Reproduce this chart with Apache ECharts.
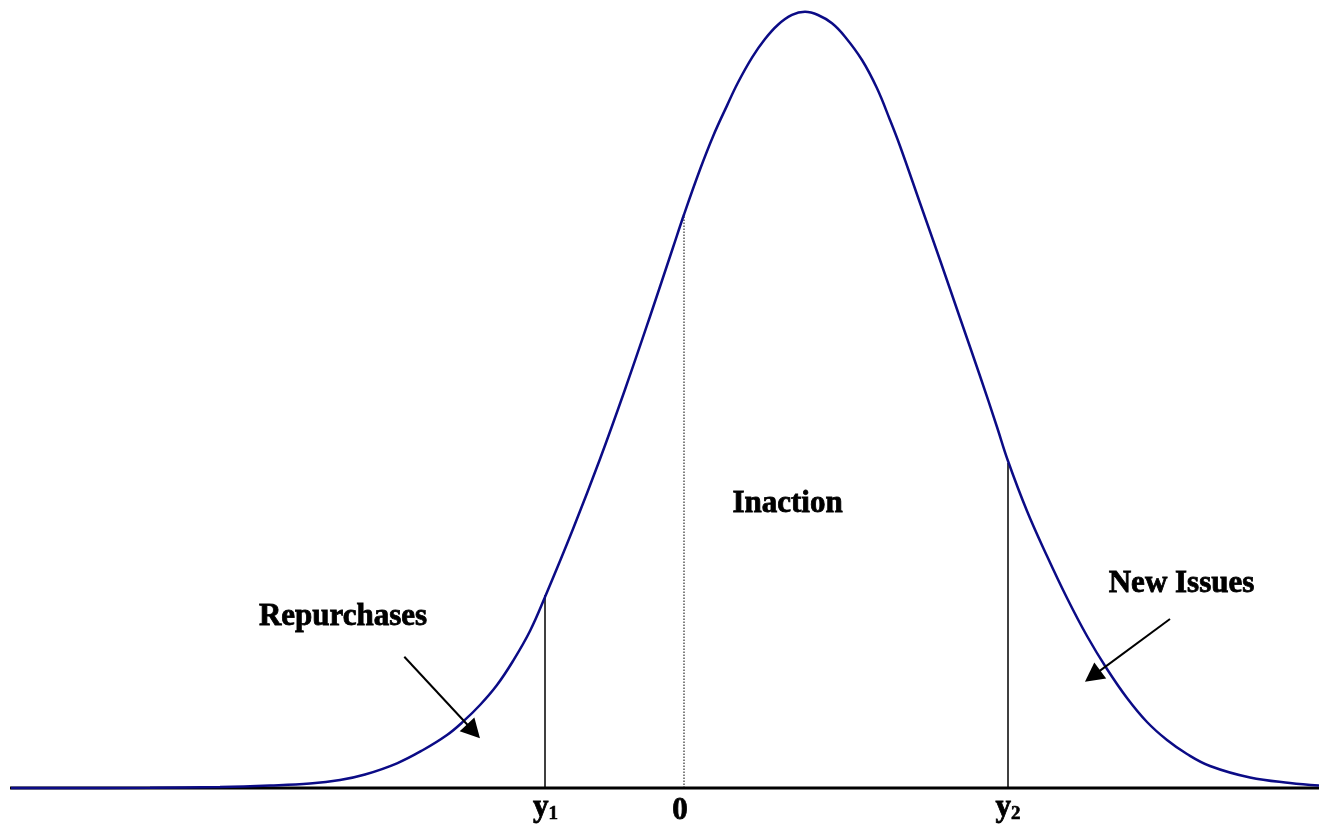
<!DOCTYPE html>
<html>
<head>
<meta charset="utf-8">
<title>Repurchases / Inaction / New Issues</title>
<script src="https://cdn.jsdelivr.net/npm/echarts@6/dist/echarts.min.js"></script>
<style>
  html, body { margin: 0; padding: 0; background: #fff; }
  #chart { width: 1319px; height: 824px; }
</style>
</head>
<body>
<div id="chart"></div>
<script>
// bell curve (x: horizontal position, y: height above the axis)
var curveX = [-6.73, -5.34, -4.64, -4.14, -3.74, -3.44, -3.19, -2.87, -2.61, -2.37,
  -2.21, -2.04, -1.87, -1.71, -1.54, -1.39, -1.11, -0.84, -0.59, -0.34,
  -0.11, 0.00, 0.16, 0.29, 0.43, 0.54, 0.68, 0.81, 0.94, 1.08,
  1.21, 1.34, 1.48, 1.61, 1.78, 1.93, 2.06, 2.16, 2.36, 2.56,
  2.76, 2.96, 3.13, 3.24, 3.43, 3.63, 3.83, 4.03, 4.23, 4.43,
  4.63, 4.83, 5.03, 5.26, 5.66, 6.06, 6.35];
var curveY = [0.00, 0.002, 0.01, 0.025, 0.045, 0.08, 0.135, 0.247, 0.38, 0.53,
  0.663, 0.83, 1.03, 1.27, 1.57, 1.91, 2.59, 3.29, 3.985, 4.715,
  5.405, 5.735, 6.185, 6.516, 6.824, 7.055, 7.304, 7.49, 7.633, 7.731,
  7.762, 7.73, 7.647, 7.513, 7.28, 6.997, 6.68, 6.42, 5.85, 5.28,
  4.70, 4.12, 3.61, 3.27, 2.77, 2.32, 1.90, 1.52, 1.19, 0.90,
  0.66, 0.48, 0.34, 0.22, 0.105, 0.05, 0.025];

// cut-offs on the axis and where they meet the curve
var cutNames = ['y1', '0', 'y2'];
var cutX = [-1.39, 0.00, 3.24];
var cutTop = [1.93, 5.73, 3.25];

// axis line
var axisStart = -6.74;
var axisEnd = 6.35;

// region labels and their arrows
var regionNames = ['Inaction', 'Repurchases', 'New Issues'];
var regionX = [1.035, -3.41, 4.975];
var regionY = [2.84, 1.71, 2.04];
var arrowFrom = [[-2.797, 1.313], [4.86, 1.69]];
var arrowTo = [[-2.105, 0.567], [4.086, 1.119]];

// tick labels under the axis
var tickText = ['{v|y}{s|1}', '{v|0}', '{v|y}{s|2}'];
var tickX = [-1.385, -0.04, 3.24];
var tickY = [-0.20, -0.23, -0.20];

var font = "'Liberation Serif', 'Times New Roman', serif";

var chart = echarts.init(document.getElementById('chart'));

var curveData = curveX.map(function (x, i) { return [x, curveY[i]]; });

var series = [];

// horizontal axis, with the two arrows as mark lines
series.push({
  type: 'line',
  data: [[axisStart, 0], [axisEnd, 0]],
  symbol: 'none',
  clip: false,
  silent: true,
  lineStyle: { color: '#000', width: 3 },
  z: 2,
  markLine: {
    silent: true,
    animation: false,
    label: { show: false },
    lineStyle: { color: '#000', width: 2, type: 'solid' },
    data: arrowFrom.map(function (p, i) {
      return [
        { coord: p, symbol: 'none' },
        { coord: arrowTo[i], symbol: 'triangle', symbolSize: [20, 19] }
      ];
    })
  }
});

// cut-off verticals
cutNames.forEach(function (name, i) {
  series.push({
    type: 'line',
    name: name,
    data: [[cutX[i], 0], [cutX[i], cutTop[i]]],
    symbol: 'none',
    clip: false,
    silent: true,
    lineStyle: {
      color: '#000',
      width: name === '0' ? 1 : 1.5,
      type: name === '0' ? [1.5, 1.5] : 'solid'
    },
    z: 3
  });
});

// the density curve
series.push({
  type: 'line',
  data: curveData,
  symbol: 'none',
  smooth: 0.4,
  clip: false,
  silent: true,
  lineStyle: { color: '#0b0b86', width: 2.5 },
  z: 4
});

var textBase = {
  color: '#000000',
  opacity: 1,
  fontFamily: font,
  fontWeight: 'bold',
  textBorderColor: '#000000',
  textBorderWidth: 0.8
};

// region labels
series.push({
  type: 'scatter',
  symbolSize: 0,
  clip: false,
  silent: true,
  data: regionNames.map(function (n, i) { return { value: [regionX[i], regionY[i]], name: n }; }),
  label: Object.assign({
    show: true,
    position: 'inside',
    formatter: '{b}',
    fontSize: 31
  }, textBase),
  z: 5
});

// tick labels
series.push({
  type: 'scatter',
  symbolSize: 0,
  clip: false,
  silent: true,
  data: tickText.map(function (t, i) { return { value: [tickX[i], tickY[i]], name: t }; }),
  label: {
    show: true,
    position: 'inside',
    formatter: '{b}',
    color: '#000000',
    rich: {
      v: Object.assign({ fontSize: 31, lineHeight: 31 }, textBase),
      s: Object.assign({ fontSize: 19, lineHeight: 19, verticalAlign: 'bottom' }, textBase, { textBorderWidth: 0.6 })
    }
  },
  z: 5
});

chart.setOption({
  animation: false,
  backgroundColor: '#fff',
  grid: { left: 0, right: 0, top: 0, bottom: 0 },
  xAxis: { type: 'value', min: -6.84, max: 6.35, show: false },
  yAxis: { type: 'value', min: -0.36, max: 7.88, show: false },
  series: series
});
</script>
</body>
</html>
